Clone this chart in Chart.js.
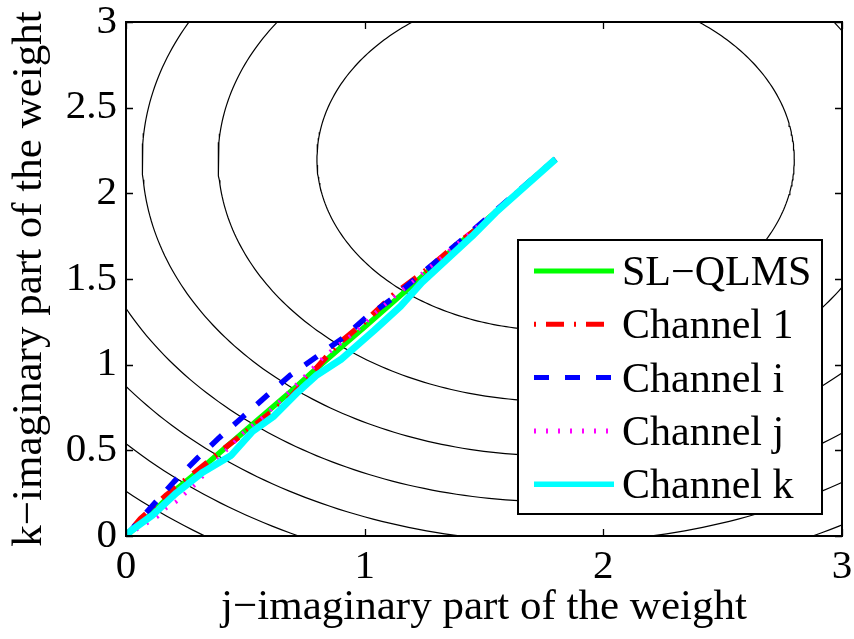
<!DOCTYPE html>
<html>
<head>
<meta charset="utf-8">
<script src="https://cdn.jsdelivr.net/npm/chart.js@4.4.0/dist/chart.umd.min.js"></script>
<style>
html, body { margin: 0; padding: 0; background: #fff; }
</style>
</head>
<body>
<canvas id="chart" width="854" height="639"></canvas>
<script>
// tick labels
const xTicks = [0, 1, 2, 3];
const yTicks = [0, 0.5, 1, 1.5, 2, 2.5, 3];

// contours of the error surface: circles round the optimum, squared radius per level
const contourCenter = [1.8, 2.2];
const contourLevels = [1, 2, 3, 4, 5, 6, 7, 8];

// weight trajectories (j part, k part)
const qlmsX = [0, 0.1, 0.2, 0.3, 0.4, 0.5, 0.6, 0.7, 0.8, 0.9, 1.0, 1.2, 1.4, 1.6, 1.8];
const qlmsY = [0, 0.12, 0.26, 0.375, 0.495, 0.615, 0.735, 0.855, 0.98, 1.1, 1.22, 1.465, 1.71, 1.955, 2.2];

const ch1X = [0, 0.06, 0.17, 0.3, 0.42, 0.55, 0.69, 0.88, 1.0, 1.13, 1.27, 1.4, 1.51, 1.65, 1.8];
const ch1Y = [0, 0.1, 0.24, 0.385, 0.52, 0.66, 0.81, 1.11, 1.25, 1.42, 1.565, 1.72, 1.835, 2.02, 2.2];

const chiX = [0, 0.1, 0.2, 0.3, 0.39, 0.49, 0.59, 0.69, 0.8, 0.91, 1.01, 1.11, 1.22, 1.4, 1.6, 1.8];
const chiY = [0, 0.16, 0.315, 0.455, 0.573, 0.696, 0.819, 0.94, 1.047, 1.157, 1.28, 1.38, 1.51, 1.72, 1.96, 2.2];

const chjX = [0, 0.07, 0.13, 0.17, 0.21, 0.25, 0.29, 0.42, 0.49, 0.57, 0.64, 0.84, 0.97, 1.05, 1.3, 1.55, 1.8];
const chjY = [0, 0.06, 0.11, 0.164, 0.2, 0.25, 0.3, 0.5, 0.6, 0.69, 0.78, 1.06, 1.2, 1.31, 1.6, 1.9, 2.2];

const chkX = [0, 0.02, 0.11, 0.21, 0.32, 0.44, 0.53, 0.62, 0.72, 0.8, 0.9, 1.04, 1.15, 1.24, 1.45, 1.55, 1.8];
const chkY = [0, 0.03, 0.12, 0.25, 0.37, 0.47, 0.61, 0.7, 0.84, 0.94, 1.03, 1.2, 1.34, 1.48, 1.75, 1.89, 2.2];

const FONT = "'Liberation Serif', 'Times New Roman', serif";

function pts(xs, ys) {
    return xs.map((x, i) => ({ x: x, y: ys[i] }));
}

function circle(r2) {
    const r = Math.sqrt(r2);
    const out = [];
    for (let i = 0; i <= 360; i++) {
        const a = i * Math.PI / 180;
        out.push({ x: contourCenter[0] + r * Math.cos(a), y: contourCenter[1] + r * Math.sin(a) });
    }
    return out;
}

const contourSets = contourLevels.map(lv => ({
    data: circle(lv),
    showLine: true,
    borderColor: '#000',
    borderWidth: 1.2,
    pointRadius: 0,
    order: 10
}));

const series = [
    { label: 'SL\u2212QLMS', data: pts(qlmsX, qlmsY), borderColor: '#00ff00', borderWidth: 5.5, borderDash: [], order: 5 },
    { label: 'Channel 1', data: pts(ch1X, ch1Y), borderColor: '#ff0000', borderWidth: 5.5, borderDash: [2, 10, 18, 10], order: 4 },
    { label: 'Channel i', data: pts(chiX, chiY), borderColor: '#0000ff', borderWidth: 5.5, borderDash: [15, 16], order: 3 },
    { label: 'Channel j', data: pts(chjX, chjY), borderColor: '#ff00ff', borderWidth: 4, borderDash: [2, 10], order: 2 },
    { label: 'Channel k', data: pts(chkX, chkY), borderColor: '#00ffff', borderWidth: 7, borderDash: [], order: 1 }
].map(s => Object.assign(s, {
    showLine: true, pointRadius: 0, borderCapStyle: 'butt', borderJoinStyle: 'round', inLegend: true
}));

// box, inward ticks and legend, MATLAB style
const decor = {
    id: 'decor',
    afterDatasetsDraw(chart) {
        const { ctx, chartArea: a, scales } = chart;
        ctx.save();
        ctx.strokeStyle = '#000';
        ctx.lineWidth = 1.3;
        ctx.setLineDash([]);
        ctx.beginPath();
        xTicks.forEach(v => {
            const px = Math.round(scales.x.getPixelForValue(v)) + 0.5;
            ctx.moveTo(px, a.bottom); ctx.lineTo(px, a.bottom - 7);
            ctx.moveTo(px, a.top); ctx.lineTo(px, a.top + 7);
        });
        yTicks.forEach(v => {
            const py = Math.round(scales.y.getPixelForValue(v)) + 0.5;
            ctx.moveTo(a.left, py); ctx.lineTo(a.left + 7, py);
            ctx.moveTo(a.right, py); ctx.lineTo(a.right - 7, py);
        });
        ctx.stroke();
        ctx.lineWidth = 2;
        ctx.strokeRect(a.left, a.top, a.right - a.left, a.bottom - a.top);

        // legend
        const items = chart.data.datasets.filter(d => d.inLegend);
        const bx = a.right - 324, by = a.bottom - 296, bw = 304, bh = 274;
        ctx.fillStyle = '#fff';
        ctx.fillRect(bx, by, bw, bh);
        ctx.lineWidth = 2;
        ctx.strokeRect(bx, by, bw, bh);
        ctx.font = '42px ' + FONT;
        ctx.textBaseline = 'middle';
        ctx.textAlign = 'left';
        items.forEach((d, i) => {
            const y = by + 31 + i * 53.3;
            ctx.strokeStyle = d.borderColor;
            ctx.lineWidth = d.borderWidth > 5.5 ? 5.5 : 5;
            ctx.lineCap = 'butt';
            ctx.setLineDash(d.borderDash);
            ctx.beginPath();
            ctx.moveTo(bx + 16, y);
            ctx.lineTo(bx + 96, y);
            ctx.stroke();
            ctx.setLineDash([]);
            ctx.fillStyle = '#000';
            ctx.fillText(d.label, bx + 104, y + 3);
        });
        ctx.restore();
    }
};

new Chart(document.getElementById('chart'), {
    type: 'scatter',
    data: { datasets: contourSets.concat(series) },
    options: {
        responsive: false,
        animation: false,
        layout: { padding: { left: 0, right: 12, top: 22, bottom: 0 } },
        plugins: { legend: { display: false }, tooltip: { enabled: false } },
        elements: { line: { tension: 0 } },
        scales: {
            x: {
                type: 'linear', min: 0, max: 3,
                afterBuildTicks: s => { s.ticks = xTicks.map(v => ({ value: v })); },
                afterFit: s => { s.height = 103; s.paddingLeft = 0; s.paddingRight = 0; },
                ticks: { color: '#000', padding: 11, callback: v => String(v), font: { family: FONT, size: 41, lineHeight: 1 } },
                grid: { display: false, drawTicks: false },
                border: { display: false },
                title: {
                    display: true, text: 'j\u2212imaginary part of the weight', color: '#000',
                    font: { family: FONT, size: 43 }, padding: { top: 0, bottom: 5 }
                }
            },
            y: {
                type: 'linear', min: 0, max: 3,
                afterBuildTicks: s => { s.ticks = yTicks.map(v => ({ value: v })); },
                afterFit: s => { s.width = 126; s.paddingTop = 0; s.paddingBottom = 0; },
                ticks: { color: '#000', padding: 9, callback: v => String(v), font: { family: FONT, size: 41, lineHeight: 1 } },
                grid: { display: false, drawTicks: false },
                border: { display: false },
                title: {
                    display: true, text: 'k\u2212imaginary part of the weight', color: '#000',
                    font: { family: FONT, size: 43 }, padding: { top: 4, bottom: 0 }
                }
            }
        }
    },
    plugins: [decor]
});
</script>
</body>
</html>
